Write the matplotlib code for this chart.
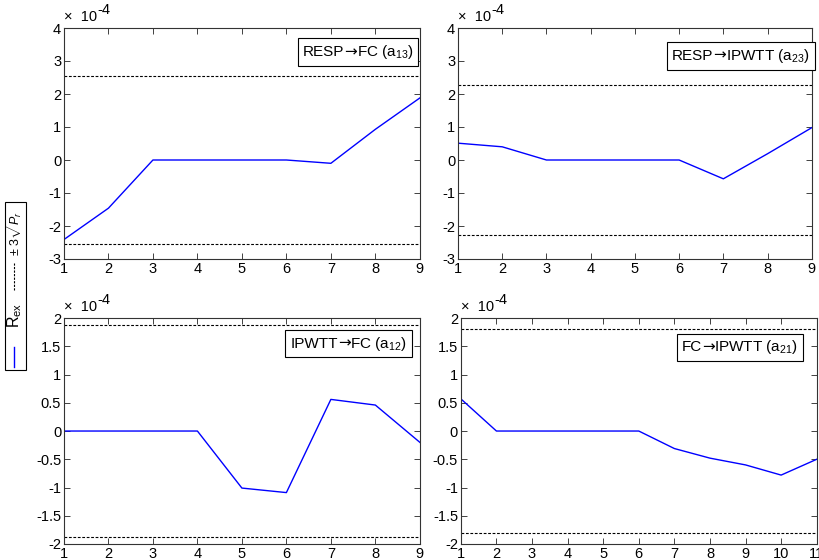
import matplotlib
matplotlib.use("Agg")
import matplotlib.pyplot as plt
from matplotlib.patches import Rectangle
from matplotlib.lines import Line2D
from matplotlib.offsetbox import TextArea, HPacker, AnchoredOffsetbox
import numpy as np

plt.rcParams['font.family'] = ['Liberation Sans', 'DejaVu Sans']
plt.rcParams['mathtext.fontset'] = 'custom'
plt.rcParams['mathtext.rm'] = 'Liberation Sans'
plt.rcParams['mathtext.it'] = 'Liberation Sans:italic'
plt.rcParams['axes.unicode_minus'] = False

# Residual correlations (units of 1e-4) per lag
lags_a13 = [1, 2, 3, 4, 5, 6, 7, 8, 9]
r_a13 = [-2.41, -1.46, 0.0, 0.0, 0.0, 0.0, -0.10, 0.93, 1.88]
bound_a13 = 2.55

lags_a23 = [1, 2, 3, 4, 5, 6, 7, 8, 9]
r_a23 = [0.51, 0.40, 0.0, 0.0, 0.0, 0.0, -0.57, 0.19, 0.98]
bound_a23 = 2.27

lags_a12 = [1, 2, 3, 4, 5, 6, 7, 8, 9]
r_a12 = [0.0, 0.0, 0.0, 0.0, -1.01, -1.09, 0.56, 0.46, -0.20]
bound_a12 = 1.87

lags_a21 = [1, 2, 3, 4, 5, 6, 7, 8, 9, 10, 11]
r_a21 = [0.57, 0.0, 0.0, 0.0, 0.0, 0.0, -0.31, -0.48, -0.60, -0.78, -0.50]
bound_a21 = 1.80

# (source, target, coefficient subscript)
links = [("RESP", "FC", "13"), ("RESP", "IPWTT", "23"),
         ("IPWTT", "FC", "12"), ("FC", "IPWTT", "21")]

panels = [
    dict(lags=lags_a13, r=r_a13, b=bound_a13, link=links[0],
         rect=[0.078, 0.5375, 0.434, 0.4125], ylim=(-3, 4), yt=np.arange(-3, 5, 1),
         box=(0.826, 0.896)),
    dict(lags=lags_a23, r=r_a23, b=bound_a23, link=links[1],
         rect=[0.5585, 0.5375, 0.4315, 0.4125], ylim=(-3, 4), yt=np.arange(-3, 5, 1),
         box=(0.80, 0.88)),
    dict(lags=lags_a12, r=r_a12, b=bound_a12, link=links[2],
         rect=[0.078, 0.0286, 0.434, 0.4034], ylim=(-2, 2), yt=np.arange(-2, 2.01, 0.5),
         box=(0.80, 0.887)),
    dict(lags=lags_a21, r=r_a21, b=bound_a21, link=links[3],
         rect=[0.562, 0.0286, 0.434, 0.4034], ylim=(-2, 2), yt=np.arange(-2, 2.01, 0.5),
         box=(0.784, 0.87)),
]

FS = 11

def link_label(ax, link, pos):
    src, dst, sub = link
    parts = [
        TextArea(src, textprops=dict(fontsize=FS)),
        TextArea("→", textprops=dict(fontsize=FS, family='DejaVu Sans')),
        TextArea(dst + r" (a$_{%s}$)" % sub, textprops=dict(fontsize=FS)),
    ]
    pack = HPacker(children=parts, align='baseline', pad=0, sep=0)
    box = AnchoredOffsetbox(loc='center', child=pack, pad=0.35, borderpad=0,
                            bbox_to_anchor=pos, bbox_transform=ax.transAxes,
                            frameon=True)
    box.patch.set_boxstyle('square,pad=0')
    box.patch.set_edgecolor('black')
    box.patch.set_linewidth(0.8)
    ax.add_artist(box)

fig = plt.figure(figsize=(8.2, 5.6), dpi=100)

for p in panels:
    ax = fig.add_axes(p['rect'])
    x = np.array(p['lags'])
    ax.plot(x, p['r'], color=(0, 0, 1), lw=1.0)
    ax.axhline(p['b'], color='black', lw=0.8, ls=(0, (2.5, 1.5)))
    ax.axhline(-p['b'], color='black', lw=0.8, ls=(0, (2.5, 1.5)))
    ax.set_xlim(x[0], x[-1])
    ax.set_ylim(*p['ylim'])
    ax.set_xticks(x)
    ax.set_xticklabels([str(v) for v in x])
    ax.set_yticks(p['yt'])
    ax.set_yticklabels(['%g' % v for v in p['yt']])
    ax.tick_params(direction='in', length=4, width=0.6, labelsize=10.5,
                   top=True, right=True, pad=2, colors='#222222', labelcolor='black')
    for s in ax.spines.values():
        s.set_color('#333333')
        s.set_linewidth(0.8)
    link_label(ax, p['link'], p['box'])
    # exponent label above the y axis
    ax.annotate("×  10", xy=(0, 1), xycoords='axes fraction', xytext=(0, 3),
                textcoords='offset points', ha='left', va='bottom', fontsize=10.5)
    ax.annotate("-4", xy=(0, 1), xycoords='axes fraction', xytext=(24, 8),
                textcoords='offset points', ha='left', va='bottom', fontsize=10.5)

# Vertical legend on the left margin
W, H = 820, 560
def fx(px):
    return px / W
def fy(py):
    return 1 - py / H

fig.patches.append(Rectangle((fx(5), fy(370)), fx(21), fy(202) - fy(370),
                             transform=fig.transFigure, fc='white', ec='black', lw=0.8))
fig.lines.append(Line2D([fx(14.5), fx(14.5)], [fy(367), fy(347)],
                        transform=fig.transFigure, color=(0, 0, 1), lw=1.0))
fig.text(fx(15), fy(315), r"R$_{\mathrm{ex}}$", rotation=90, ha='center', va='center',
         fontsize=11.5)
fig.lines.append(Line2D([fx(14.5), fx(14.5)], [fy(290), fy(263)],
                        transform=fig.transFigure, color='black', lw=0.8,
                        ls=(0, (2.0, 1.2))))
fig.text(fx(15), fy(233), r"$\pm\ 3\sqrt{P_r}$", rotation=90, ha='center', va='center',
         fontsize=9)

fig.savefig('out.png', dpi=100)
